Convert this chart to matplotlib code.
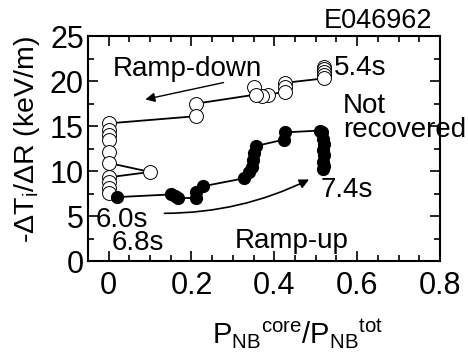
import matplotlib
matplotlib.use('Agg')
from matplotlib import pyplot as plt
from matplotlib.ticker import MultipleLocator

plt.rcParams['font.family'] = ['Liberation Sans', 'DejaVu Sans']
plt.rcParams['mathtext.fontset'] = 'custom'
plt.rcParams['mathtext.rm'] = 'Liberation Sans'
plt.rcParams['mathtext.it'] = 'Liberation Sans'

# ramp-down (open circles), 5.4s -> 6.0s
down_x = [0.52, 0.52, 0.52, 0.52, 0.52, 0.425, 0.425, 0.425,
          0.385, 0.37, 0.35, 0.355, 0.212, 0.212,
          0.0, 0.0, 0.0, 0.0, 0.0, 0.0, 0.10, 0.0, 0.0, 0.0, 0.0]
down_y = [21.6, 21.3, 21.0, 20.7, 20.3, 19.8, 19.3, 18.8,
          18.5, 18.3, 19.3, 18.5, 17.5, 16.1,
          15.3, 14.6, 14.0, 13.4, 12.1, 10.9, 9.9, 9.3, 8.8, 8.1, 7.6]

# ramp-up (filled circles), 6.8s -> 7.4s
up_x = [0.02, 0.15, 0.16, 0.167, 0.21, 0.21, 0.227, 0.328, 0.34, 0.345,
        0.348, 0.352, 0.357, 0.424, 0.427, 0.51, 0.516, 0.518, 0.52,
        0.518, 0.52, 0.518, 0.52, 0.518]
up_y = [7.1, 7.4, 7.2, 7.0, 7.0, 7.7, 8.3, 9.2, 9.9, 10.4,
        11.2, 12.0, 12.8, 13.5, 14.3, 14.5, 14.3, 13.6, 13.0,
        12.3, 11.8, 11.0, 10.6, 10.2]

fig = plt.figure(figsize=(4.68, 3.61), dpi=100)
ax = fig.add_axes([0.188, 0.277, 0.752, 0.623])

ax.plot(down_x, down_y, color='k', linewidth=1.3, marker='o', markersize=10,
        markerfacecolor='white', markeredgecolor='k', markeredgewidth=0.7)
ax.plot(up_x, up_y, color='k', linewidth=1.3, marker='o', markersize=8.5,
        markerfacecolor='k', markeredgecolor='k')

ax.set_xlim(-0.05, 0.8)
ax.set_ylim(0, 25)
ax.xaxis.set_major_locator(MultipleLocator(0.2))
ax.xaxis.set_minor_locator(MultipleLocator(0.05))
ax.yaxis.set_major_locator(MultipleLocator(5))
ax.yaxis.set_minor_locator(MultipleLocator(2.5))
ax.xaxis.set_major_formatter(plt.FuncFormatter(lambda v, p: '%g' % round(v, 2)))
ax.tick_params(which='both', direction='in', top=True, right=True,
               labelsize=22, width=1.2)
ax.tick_params(which='major', length=7)
ax.tick_params(which='minor', length=4)
ax.tick_params(axis='x', pad=7)
ax.tick_params(axis='y', pad=3)
for s in ax.spines.values():
    s.set_linewidth(1.5)

ax.set_xlabel(r'$\mathregular{P{}_{NB}{}^{core}/P{}_{NB}{}^{tot}}$', fontsize=21)
ax.xaxis.set_label_coords(0.595, -0.245)
ax.set_ylabel(r'-ΔT$_\mathregular{i}$/ΔR (keV/m)', fontsize=20.5)
ax.yaxis.set_label_coords(-0.13, 0.54)

ax.text(0.782, 25.9, 'E046962', ha='right', fontsize=19.5, clip_on=False)
ax.text(0.01, 20.56, 'Ramp-down', fontsize=20)
ax.text(0.543, 20.67, '5.4s', fontsize=20)
ax.text(0.566, 13.8, 'Not\nrecovered', fontsize=20, va='baseline', linespacing=0.88)
ax.text(0.513, 7.1, '7.4s', fontsize=20)
ax.text(-0.032, 3.78, '6.0s', fontsize=20)
ax.text(0.007, 1.22, '6.8s', fontsize=20)
ax.text(0.305, 1.44, 'Ramp-up', fontsize=20)

ax.annotate('', xy=(0.082, 17.9), xytext=(0.284, 19.9),
            arrowprops=dict(arrowstyle='-|>', color='k', lw=1.0, mutation_scale=14))
ax.annotate('', xy=(0.49, 9.2), xytext=(0.128, 5.3),
            arrowprops=dict(arrowstyle='-|>', color='k', lw=1.2, mutation_scale=14,
                            connectionstyle='arc3,rad=0.12'))

fig.savefig('out.png', dpi=100)
